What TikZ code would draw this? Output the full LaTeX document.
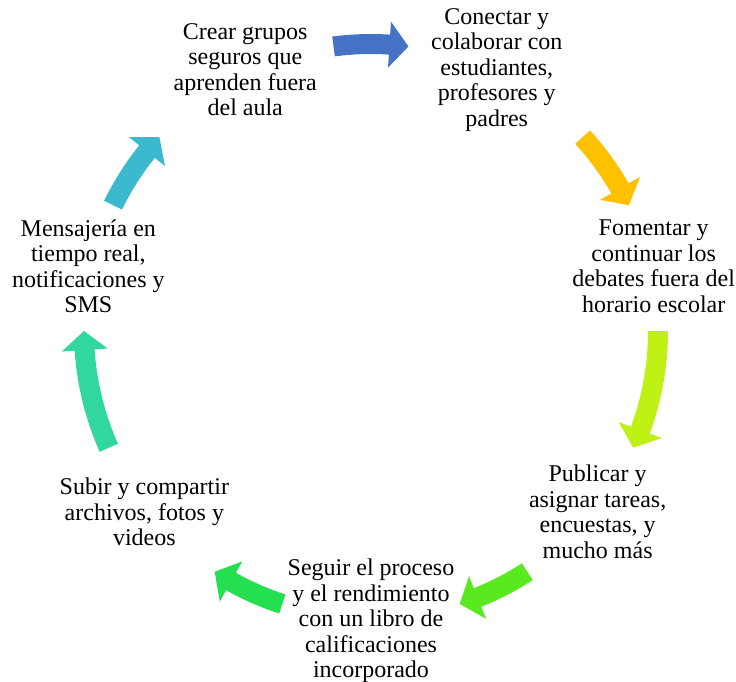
\documentclass[tikz,border=0pt]{standalone}
\usepackage{fontspec}
\setmainfont{Liberation Serif}
\usetikzlibrary{calc}
\definecolor{cBlue}{HTML}{4472C4}
\definecolor{cOrange}{HTML}{FFC000}
\definecolor{cLime}{HTML}{BFF214}
\definecolor{cGreen}{HTML}{5AE81E}
\definecolor{cGreenB}{HTML}{24E050}
\definecolor{cTeal}{HTML}{30D8A0}
\definecolor{cCyan}{HTML}{3AB9CF}
\newcommand{\cyclearrow}[4]{% color, start angle, end angle, head base angle
  \fill[#1] (#2:297pt) arc[start angle=#2, end angle=#4, radius=297pt]
    -- (#4:310pt) -- (#3:287pt) -- (#4:264pt) -- (#4:277pt)
    arc[start angle=#4, end angle=#2, radius=277pt] -- cycle;}
\begin{document}
\begin{tikzpicture}[
  txt/.style={align=center, font=\fontsize{24}{25.5}\selectfont, inner sep=0pt}]
\useasboundingbox (0,0) rectangle (736pt,-681pt);
\coordinate (c) at (371pt,-331pt);
\node[txt] (n1) at ($(c)+(115.7:290pt)$) {Crear grupos\\seguros que\\aprenden fuera\\del aula};
\node[txt] (n2) at ($(c)+(64.3:290pt)$) {Conectar y\\colaborar con\\estudiantes,\\profesores y\\padres};
\node[txt] (n3) at ($(c)+(12.9:290pt)$) {Fomentar y\\continuar los\\debates fuera del\\horario escolar};
\node[txt] (n4) at ($(c)+(-38.6:290pt)$) {Publicar y\\asignar tareas,\\encuestas, y\\mucho más};
\node[txt] (n5) at ($(c)+(-90:290pt)$) {Seguir el proceso\\y el rendimiento\\con un libro de\\calificaciones\\incorporado};
\node[txt] (n6) at ($(c)+(-141.4:290pt)$) {Subir y compartir\\archivos, fotos y\\videos};
\node[txt] (n7) at ($(c)+(167.1:290pt)$) {Mensajería en\\tiempo real,\\notificaciones y\\SMS};
\begin{scope}[shift={(c)}]
\cyclearrow{cBlue}{97.5}{82.5}{86.3}
\cyclearrow{cOrange}{42.5}{26}{29.8}
\cyclearrow{cLime}{0}{-24}{-20.2}
\cyclearrow{cGreen}{-57}{-72}{-68.2}
\cyclearrow{cGreenB}{-108}{-123}{-119.2}
\cyclearrow{cTeal}{204}{180}{183.8}
\cyclearrow{cCyan}{154}{137.5}{141.3}
\end{scope}
\end{tikzpicture}
\end{document}
